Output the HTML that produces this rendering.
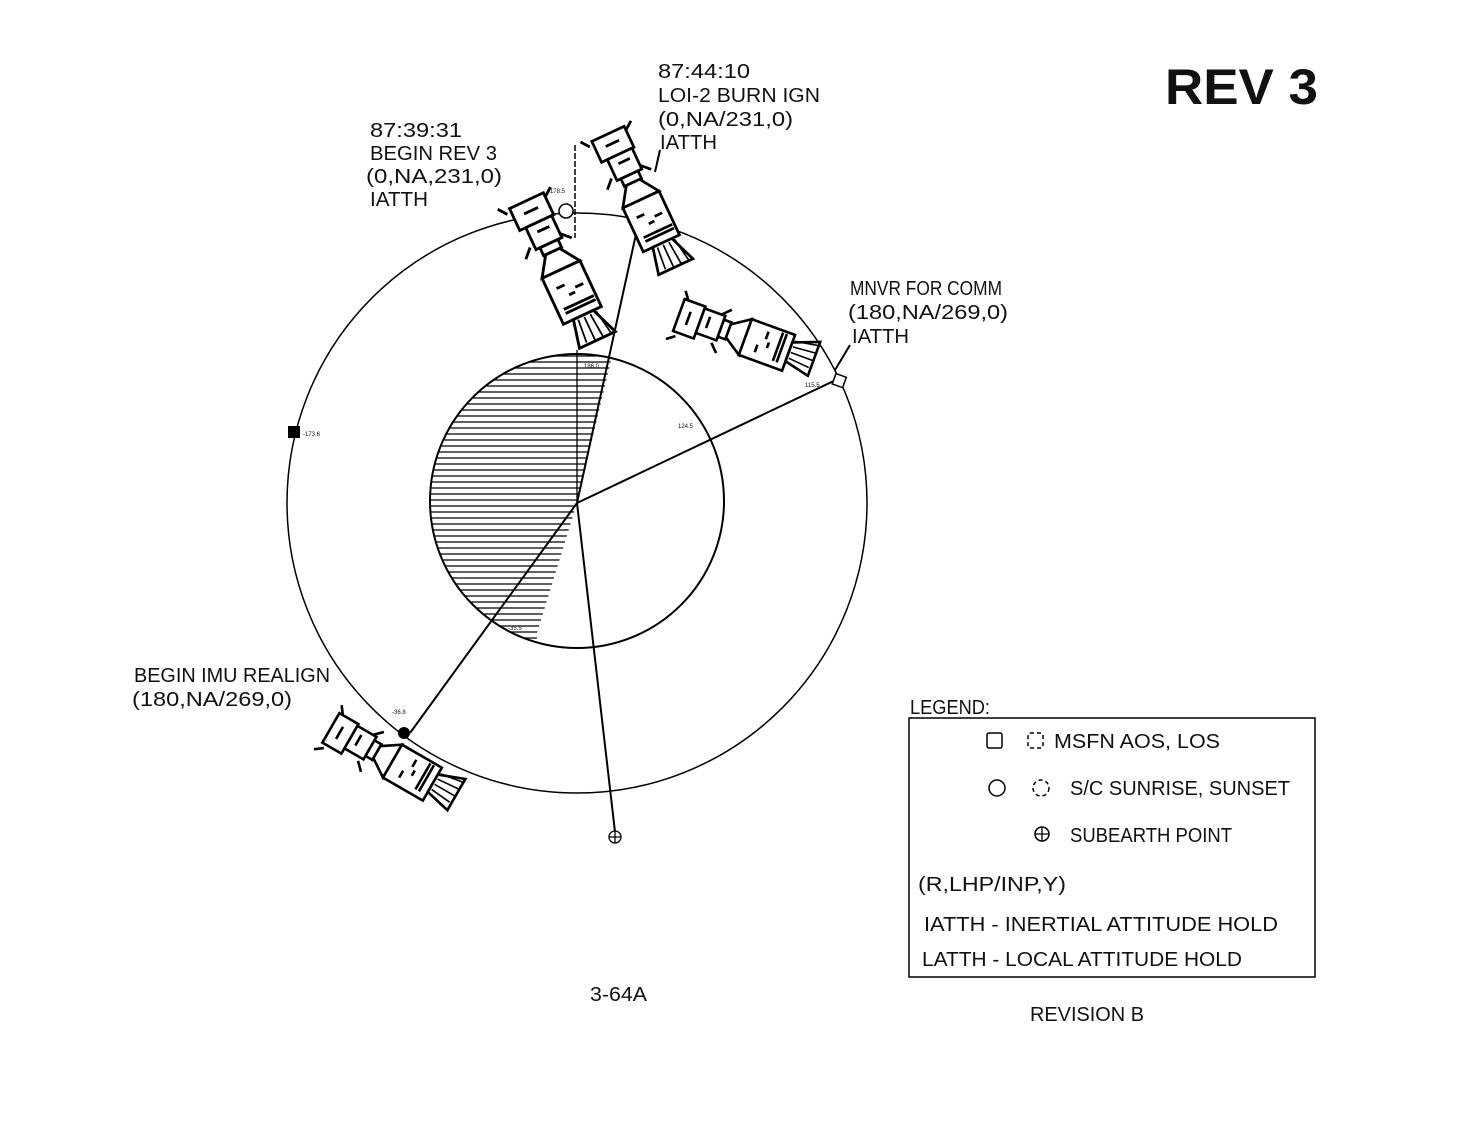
<!DOCTYPE html><html><head><style>
body{margin:0;background:#fff;width:1464px;height:1136px;overflow:hidden}
svg text{font-family:"Liberation Sans Narrow","Liberation Sans",sans-serif;fill:#111}
</style></head><body>
<svg width="1464" height="1136" viewBox="0 0 1464 1136">
<defs>
<clipPath id="moon"><circle cx="577" cy="501" r="147"/></clipPath>
<clipPath id="shade"><polygon points="577,503 616,340 420,340 420,660 537,660 537,633"/></clipPath>
<g id="sc" stroke-width="2.6">
 <rect x="-18" y="-70" width="34" height="22" fill="#fff" stroke="#000"/>
 <rect x="-12" y="-48" width="26" height="22" fill="#fff" stroke="#000"/>
 <path d="M-22,-66 l-6,-8 M16,-66 l8,-6 M-16,-30 l-8,8 M14,-30 l8,8 M-8,-60 h14 M-4,-40 h12" stroke="#000"/>
 <rect x="-8" y="-26" width="18" height="8" fill="#fff" stroke="#000"/>
 <path d="M-6,-18 L8,-18 L20,0 L-18,0 Z" fill="#fff" stroke="#000"/>
 <rect x="-18" y="0" width="38" height="46" fill="#fff" stroke="#000"/>
 <path d="M-10,14 h8 M6,20 h8 M-12,34 h30 M-12,38 h30 M-2,24 h6" stroke="#000"/>
 <path d="M-8,46 L-14,72 L22,72 L12,46 Z" fill="#fff" stroke="#000"/>
 <path d="M-4,48 L-6,70 M2,48 L2,72 M8,48 L10,72 M14,48 L18,72" stroke="#000" stroke-width="1.6"/>
</g>
</defs>
<circle cx="577" cy="503" r="290" fill="none" stroke="#000" stroke-width="1.5"/>
<g clip-path="url(#moon)"><g clip-path="url(#shade)" stroke="#000" stroke-width="1.3">
<path d="M420,356h200M420,362h200M420,368h200M420,374h200M420,380h200M420,386h200M420,392h200M420,398h200M420,404h200M420,410h200M420,416h200M420,422h200M420,428h200M420,434h200M420,440h200M420,446h200M420,452h200M420,458h200M420,464h200M420,470h200M420,476h200M420,482h200M420,488h200M420,494h200M420,500h200M420,506h200M420,512h200M420,518h200M420,524h200M420,530h200M420,536h200M420,542h200M420,548h200M420,554h200M420,560h200M420,566h200M420,572h200M420,578h200M420,584h200M420,590h200M420,596h200M420,602h200M420,608h200M420,614h200M420,620h200M420,626h200M420,632h200M420,638h200M420,644h200"/>
</g></g>
<circle cx="577" cy="501" r="147" fill="none" stroke="#000" stroke-width="2"/>
<g stroke="#000" stroke-width="2" fill="none">
<line x1="577" y1="503" x2="638" y2="225"/>
<line x1="577" y1="503" x2="840" y2="378"/>
<line x1="577" y1="503" x2="615" y2="832"/>
<line x1="577" y1="503" x2="410" y2="733"/>
<line x1="577" y1="503" x2="577" y2="350" stroke-width="1.3"/>
<line x1="575" y1="145" x2="575" y2="238" stroke-dasharray="6,2" stroke-width="1.5"/>
<line x1="655" y1="172" x2="660" y2="150"/>
<line x1="835" y1="370" x2="850" y2="345"/>
</g>
<use href="#sc" transform="translate(560,270) rotate(-25) scale(1.1)"/>
<use href="#sc" transform="translate(640,200) rotate(-25) scale(1.05)"/>
<use href="#sc" transform="translate(745,338) rotate(-70) scale(1.0)"/>
<use href="#sc" transform="translate(392,762) rotate(-60) scale(1.0)"/>
<circle cx="566" cy="211" r="7" fill="#fff" stroke="#000" stroke-width="1.5"/>
<rect x="834" y="375" width="11" height="11" fill="#fff" stroke="#000" stroke-width="1.5" transform="rotate(20 839 380)"/>
<rect x="288" y="426" width="12" height="12" fill="#000"/>
<circle cx="404" cy="733" r="6" fill="#000"/>
<circle cx="615" cy="837" r="6" fill="#fff" stroke="#000" stroke-width="1.3"/>
<path d="M609,837h12M615,831v12" stroke="#000" stroke-width="1.3"/>
<g style="font-size:6px">
<text x="548" y="193">-178.5</text><text x="584" y="368">186.0</text><text x="678" y="428">124.5</text>
<text x="805" y="387">115.5</text><text x="303" y="436">-173.6</text><text x="508" y="630">-35.5</text><text x="392" y="714">-36.8</text>
</g>
<g style="font-size:20px" lengthAdjust="spacingAndGlyphs">
<text x="658" y="78" textLength="92" lengthAdjust="spacingAndGlyphs">87:44:10</text>
<text x="658" y="102" textLength="162" lengthAdjust="spacingAndGlyphs">LOI-2 BURN IGN</text>
<text x="658" y="126" textLength="135" lengthAdjust="spacingAndGlyphs">(0,NA/231,0)</text>
<text x="660" y="149" textLength="57" lengthAdjust="spacingAndGlyphs">IATTH</text>
<text x="370" y="137" textLength="92" lengthAdjust="spacingAndGlyphs">87:39:31</text>
<text x="370" y="160" textLength="127" lengthAdjust="spacingAndGlyphs">BEGIN REV 3</text>
<text x="366" y="183" textLength="136" lengthAdjust="spacingAndGlyphs">(0,NA,231,0)</text>
<text x="370" y="206" textLength="58" lengthAdjust="spacingAndGlyphs">IATTH</text>
<text x="850" y="295" textLength="152" lengthAdjust="spacingAndGlyphs">MNVR FOR COMM</text>
<text x="848" y="319" textLength="160" lengthAdjust="spacingAndGlyphs">(180,NA/269,0)</text>
<text x="852" y="343" textLength="57" lengthAdjust="spacingAndGlyphs">IATTH</text>
<text x="134" y="682" textLength="196" lengthAdjust="spacingAndGlyphs">BEGIN IMU REALIGN</text>
<text x="132" y="706" textLength="160" lengthAdjust="spacingAndGlyphs">(180,NA/269,0)</text>
<text x="910" y="714" textLength="80" lengthAdjust="spacingAndGlyphs">LEGEND:</text>
<text x="590" y="1001" textLength="57" lengthAdjust="spacingAndGlyphs">3-64A</text>
<text x="1030" y="1021" textLength="114" lengthAdjust="spacingAndGlyphs">REVISION B</text>
</g>
<text x="1165" y="104" style="font-size:50px;font-weight:bold" textLength="153" lengthAdjust="spacingAndGlyphs">REV 3</text>
<rect x="909" y="718" width="406" height="259" fill="none" stroke="#000" stroke-width="1.5"/>
<rect x="987" y="733" width="15" height="15" rx="2" fill="none" stroke="#000" stroke-width="1.5"/>
<rect x="1028" y="733" width="15" height="15" rx="2" fill="none" stroke="#000" stroke-width="1.5" stroke-dasharray="4,3"/>
<circle cx="997" cy="788" r="8" fill="none" stroke="#000" stroke-width="1.5"/>
<circle cx="1041" cy="788" r="8" fill="none" stroke="#000" stroke-width="1.5" stroke-dasharray="4,3"/>
<circle cx="1042" cy="834" r="7" fill="none" stroke="#000" stroke-width="1.5"/>
<path d="M1035,834h14M1042,827v14" stroke="#000" stroke-width="1.3"/>
<g style="font-size:20px">
<text x="1054" y="748" textLength="166" lengthAdjust="spacingAndGlyphs">MSFN AOS, LOS</text>
<text x="1070" y="795" textLength="220" lengthAdjust="spacingAndGlyphs">S/C SUNRISE, SUNSET</text>
<text x="1070" y="842" textLength="162" lengthAdjust="spacingAndGlyphs">SUBEARTH POINT</text>
<text x="918" y="891" textLength="148" lengthAdjust="spacingAndGlyphs">(R,LHP/INP,Y)</text>
<text x="924" y="931" textLength="354" lengthAdjust="spacingAndGlyphs">IATTH - INERTIAL ATTITUDE HOLD</text>
<text x="922" y="966" textLength="320" lengthAdjust="spacingAndGlyphs">LATTH - LOCAL ATTITUDE HOLD</text>
</g>
</svg>
</body></html>
